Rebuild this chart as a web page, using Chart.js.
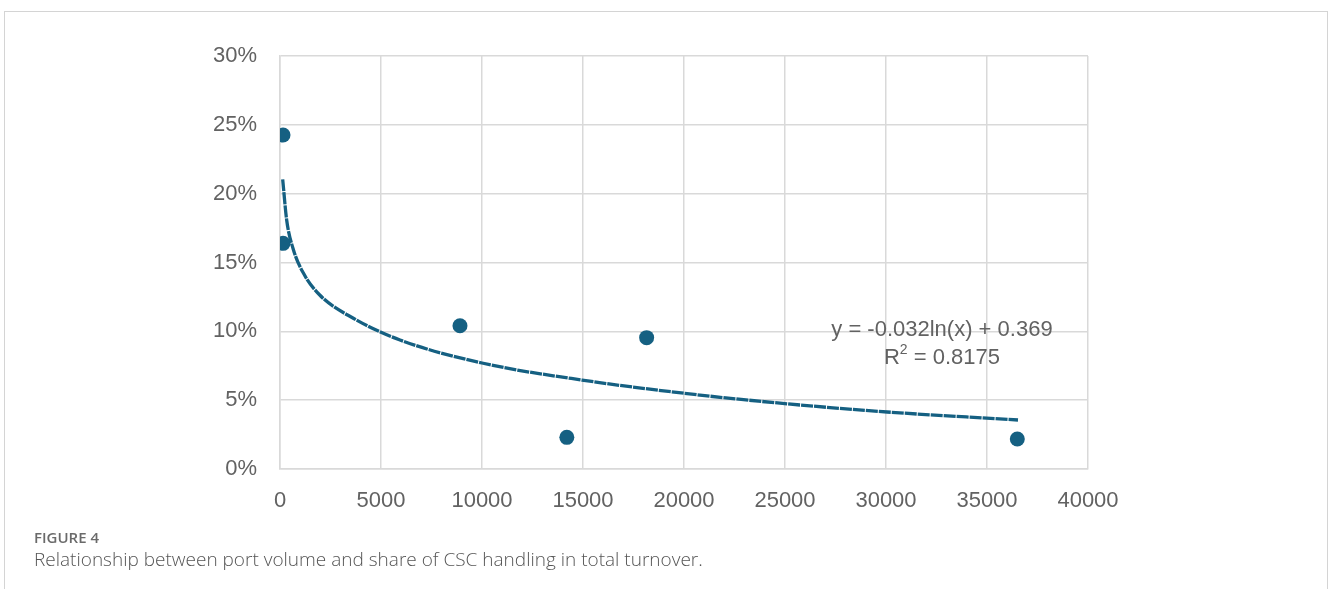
<!DOCTYPE html>
<html>
<head>
<meta charset="utf-8">
<script src="https://cdn.jsdelivr.net/npm/chart.js@4.4.1/dist/chart.umd.min.js"></script>
<style>
  html, body { margin: 0; padding: 0; background: #fff; }
  body { width: 1328px; height: 589px; position: relative; overflow: hidden; }
  .frame { position: absolute; left: 4px; top: 11px; width: 1322px; height: 640px; border: 1px solid #d4d4d4; }
  #chart { position: absolute; left: 0; top: 0; }
  .fig { position: absolute; left: 34px; top: 530px; font: 600 15px/15px "Open Sans", sans-serif; color: #6a6a6a; }
  .cap { position: absolute; left: 34px; top: 550px; font: 300 19px/19px "Open Sans", sans-serif; color: #555; white-space: nowrap; }
</style>
</head>
<body>
<div class="frame"></div>
<canvas id="chart" width="1328" height="589"></canvas>
<div class="fig">FIGURE 4</div>
<div class="cap">Relationship between port volume and share of CSC handling in total turnover.</div>
<script>
// observed ports: volume vs CSC share
const portVolume = [150, 150, 8910, 14200, 18150, 36500];
const cscShare = [0.2426, 0.1639, 0.1041, 0.0230, 0.0954, 0.0218];

// log trendline
const trendX = [133, 330, 660, 1150, 1980, 3630, 5940, 10000, 14950, 20790, 25740, 30050, 36535];
const trendY = [0.2104, 0.1809, 0.1595, 0.1425, 0.1262, 0.1095, 0.0937, 0.0770, 0.0646, 0.0537, 0.0465, 0.0414, 0.0356];

const xTicks = [0, 5000, 10000, 15000, 20000, 25000, 30000, 35000, 40000];
const yTicks = [0, 0.05, 0.10, 0.15, 0.20, 0.25, 0.30];

const eqText = 'y = -0.032ln(x) + 0.369';
const r2Value = '0.8175';

const BLUE = '#156082';
const GRID = '#d9d9d9';
const TEXT = '#626262';
const FONT = '"Liberation Sans", Arial, sans-serif';

const eqLabel = {
  id: 'eqLabel',
  afterDatasetsDraw(chart) {
    const { ctx, scales } = chart;
    const cx = scales.x.getPixelForValue(32770);
    const y1 = scales.y.getPixelForValue(0.1010);
    const y2 = y1 + 28;
    ctx.save();
    ctx.fillStyle = TEXT;
    ctx.textBaseline = 'middle';
    ctx.font = '22px ' + FONT;
    ctx.textAlign = 'center';
    ctx.fillText(eqText, cx, y1);

    // R² with raised 2
    ctx.textAlign = 'left';
    const rest = ' = ' + r2Value;
    const wR = ctx.measureText('R').width;
    const wRest = ctx.measureText(rest).width;
    ctx.font = '14px ' + FONT;
    const w2 = ctx.measureText('2').width;
    let x = cx - (wR + w2 + wRest) / 2;
    ctx.font = '22px ' + FONT;
    ctx.fillText('R', x, y2);
    x += wR;
    ctx.font = '14px ' + FONT;
    ctx.fillText('2', x, y2 - 8);
    x += w2;
    ctx.font = '22px ' + FONT;
    ctx.fillText(rest, x, y2);
    ctx.restore();
  }
};

new Chart(document.getElementById('chart'), {
  type: 'scatter',
  data: {
    datasets: [
      {
        label: 'Trend',
        data: trendX.map((x, i) => ({ x, y: trendY[i] })),
        showLine: true,
        borderColor: BLUE,
        borderWidth: 3.3,
        borderDash: [12, 1],
        pointRadius: 0,
        cubicInterpolationMode: 'monotone',
        order: 0
      },
      {
        label: 'Ports',
        data: portVolume.map((x, i) => ({ x, y: cscShare[i] })),
        backgroundColor: BLUE,
        borderWidth: 0,
        pointRadius: 7.5,
        order: 1
      }
    ]
  },
  options: {
    responsive: false,
    animation: false,
    layout: { padding: { left: 0, top: 56, right: 240, bottom: 0 } },
    plugins: {
      legend: { display: false },
      tooltip: { enabled: false }
    },
    scales: {
      x: {
        type: 'linear',
        min: 0,
        max: 40000,
        afterFit: s => { s.height = 120; },
        afterBuildTicks: s => { s.ticks = xTicks.map(v => ({ value: v })); },
        ticks: {
          color: TEXT,
          font: { family: FONT, size: 22 },
          padding: 19,
          maxRotation: 0,
          callback: v => String(v)
        },
        grid: { color: GRID, lineWidth: 1.5, drawTicks: false },
        border: { color: GRID, width: 1.5 }
      },
      y: {
        min: 0,
        max: 0.3,
        afterFit: s => { s.width = 280; },
        afterBuildTicks: s => { s.ticks = yTicks.map(v => ({ value: v })); },
        ticks: {
          color: TEXT,
          font: { family: FONT, size: 22 },
          padding: 23,
          callback: v => Math.round(v * 100) + '%'
        },
        grid: { color: GRID, lineWidth: 1.5, drawTicks: false },
        border: { color: GRID, width: 1.5 }
      }
    }
  },
  plugins: [eqLabel]
});
</script>
</body>
</html>
